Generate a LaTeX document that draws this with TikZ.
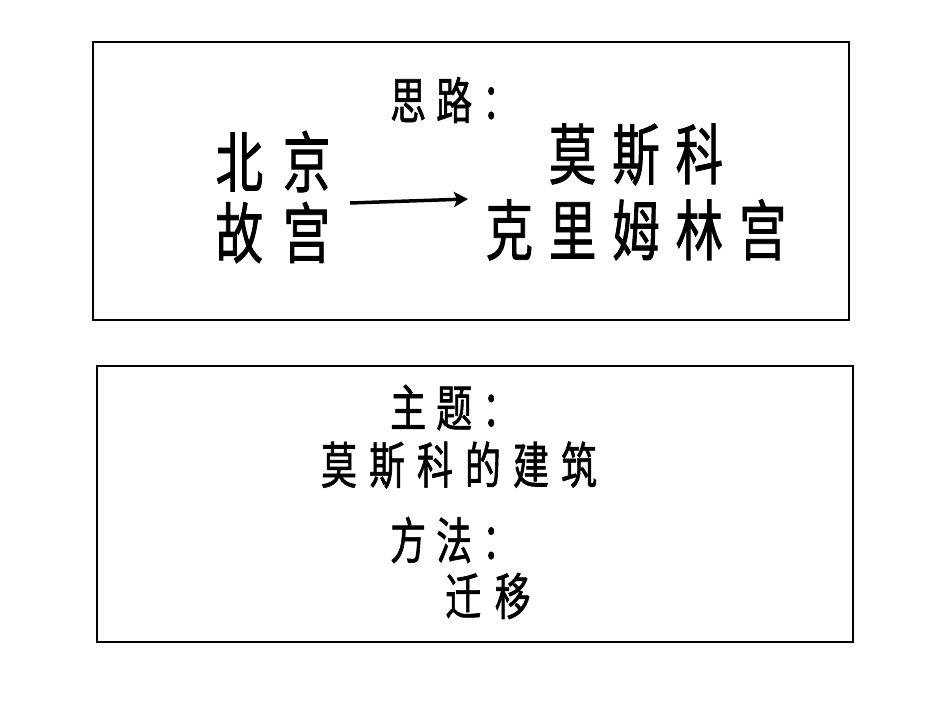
\documentclass[tikz,border=0pt]{standalone}
\usepackage{fontspec}
\newfontfamily\cjk[FakeStretch=0.72,FakeBold=1.2]{Noto Sans CJK SC}
\usetikzlibrary{arrows.meta}
\tikzset{
  panel/.style={draw=black, line width=2pt},
  txt/.style 2 args={inner sep=0pt, align=center,
    font={\cjk\fontsize{#1}{#1}\selectfont\addfontfeature{LetterSpace=#2}}},
  arr/.style={line width=3.5pt, -{Stealth[length=14pt,width=15pt,inset=3pt]}},
}
\begin{document}
\begin{tikzpicture}[x=1pt,y=-1pt]
\useasboundingbox (0,0) rectangle (950,713);
\fill[white] (0,0) rectangle (950,713);
% panels
\draw[panel] (93,42) rectangle (849,320);
\draw[panel] (97,366) rectangle (853,642);
% top panel
\node[txt={50}{20}, anchor=west] (silu) at (390,100) {思路：};
\node[txt={66}{30}, font={\cjk\fontsize{66}{71}\selectfont\addfontfeature{LetterSpace=30}}] (beijing) at (273,197) {北京\\故宫};
\node[txt={66}{24}, font={\cjk\fontsize{66}{76}\selectfont\addfontfeature{LetterSpace=24}}] (moscow) at (636,192) {莫斯科\\克里姆林宫};
\coordinate (a1) at (350,203);
\coordinate (a2) at (468,199);
\draw[arr] (a1) -- (a2);
% bottom panel
\node[txt={50}{20}, anchor=west] (zhuti) at (390,407.5) {主题：};
\node[txt={50}{24}] (jianzhu) at (459,465) {莫斯科的建筑};
\node[txt={50}{27}] (qianyi) at (488,596) {迁移};
\node[txt={50}{20}, anchor=west] (fangfa) at (390,540) {方法：};
\end{tikzpicture}
\end{document}
